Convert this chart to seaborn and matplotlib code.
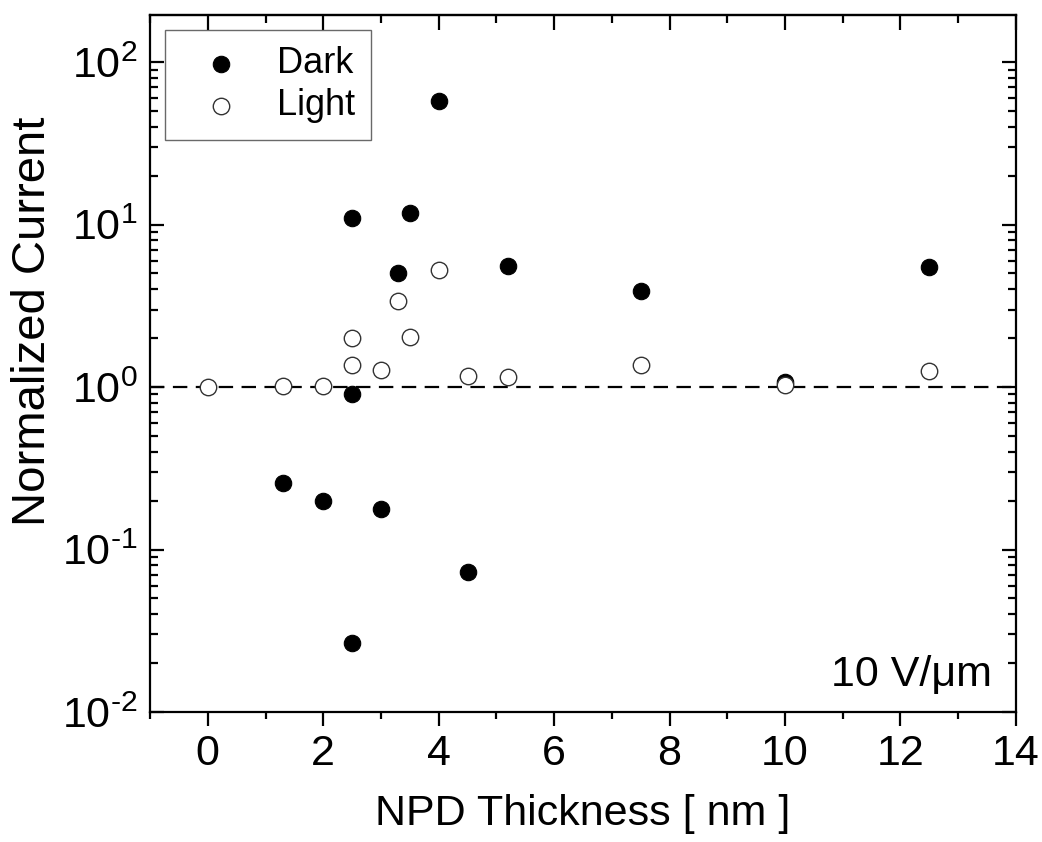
import numpy as np
import pandas as pd
import matplotlib
matplotlib.use("Agg")
import matplotlib.pyplot as plt
from matplotlib.ticker import LogLocator, MultipleLocator, NullFormatter, FuncFormatter
import seaborn as sns

# NPD thickness (nm) and normalized current, dark and illuminated
dark_thickness = [1.3, 2.0, 2.5, 2.5, 2.5, 3.0, 3.3, 3.5, 4.0, 4.5, 5.2, 7.5, 10.0, 12.5]
dark_current = [0.255, 0.200, 0.0266, 0.90, 10.9, 0.177, 5.04, 11.7, 57.6, 0.073, 5.56, 3.88, 1.08, 5.52]

light_thickness = [0.0, 1.3, 2.0, 2.5, 2.5, 3.0, 3.3, 3.5, 4.0, 4.5, 5.2, 7.5, 10.0, 12.5]
light_current = [1.00, 1.02, 1.02, 1.99, 1.36, 1.27, 3.39, 2.03, 5.25, 1.17, 1.15, 1.36, 1.03, 1.26]

series_labels = ["Dark", "Light"]
field_label = "10 V/\u03bcm"
x_label = "NPD Thickness [ nm ]"
y_label = "Normalized Current"

sns.set_theme(style="white")
plt.rcParams["font.family"] = ["Liberation Sans", "DejaVu Sans"]
plt.rcParams["mathtext.fontset"] = "custom"
plt.rcParams["mathtext.rm"] = "Liberation Sans"
plt.rcParams["mathtext.it"] = "Liberation Sans:italic"
plt.rcParams["axes.unicode_minus"] = False
plt.rcParams["text.color"] = "black"
plt.rcParams["axes.labelcolor"] = "black"
plt.rcParams["xtick.color"] = "black"
plt.rcParams["ytick.color"] = "black"

dark_df = pd.DataFrame({"thickness": dark_thickness, "current": dark_current})
light_df = pd.DataFrame({"thickness": light_thickness, "current": light_current})

fig = plt.figure(figsize=(10.42, 8.42), dpi=100)
ax = fig.add_axes([0.144, 0.1544, 0.831, 0.8278])

ax.axhline(1.0, color="black", lw=1.6, ls=(0, (6.5, 3.8)), zorder=1)

sns.scatterplot(data=dark_df, x="thickness", y="current", ax=ax,
                marker="o", s=140, color="black", edgecolor="black",
                linewidth=0.8, label=series_labels[0], zorder=3)
sns.scatterplot(data=light_df, x="thickness", y="current", ax=ax,
                marker="o", s=140, facecolor="white", edgecolor="#333333",
                linewidth=1.0, label=series_labels[1], zorder=3)

ax.set_yscale("log")
ax.set_xlim(-1, 14)
ax.set_ylim(0.01, 10 ** 2.29)


def decade_label(value, pos):
    exp = int(round(np.log10(value)))
    sign = "\u2010" if exp < 0 else ""
    return "$\\mathdefault{10^{%s%d}}$" % (sign, abs(exp))


ax.xaxis.set_major_locator(MultipleLocator(2))
ax.xaxis.set_minor_locator(MultipleLocator(1))
ax.yaxis.set_major_locator(LogLocator(base=10, numticks=10))
ax.yaxis.set_major_formatter(FuncFormatter(decade_label))
ax.yaxis.set_minor_locator(LogLocator(base=10, subs=np.arange(2, 10), numticks=20))
ax.yaxis.set_minor_formatter(NullFormatter())

for sp in ax.spines.values():
    sp.set_visible(True)
    sp.set_color("black")
    sp.set_linewidth(1.6)

ax.tick_params(axis="x", which="both", direction="out", bottom=True, top=False,
               width=1.6, color="black", labelcolor="black", labelsize=31, pad=6)
ax.tick_params(axis="x", which="major", length=10)
ax.tick_params(axis="x", which="minor", length=5)
ax.tick_params(axis="y", which="both", direction="in", left=True, right=True,
               width=1.6, color="black", labelcolor="black", labelsize=31, pad=9)
ax.tick_params(axis="y", which="major", length=10)
ax.tick_params(axis="y", which="minor", length=5.5)

top = ax.secondary_xaxis("top")
top.xaxis.set_major_locator(MultipleLocator(2))
top.xaxis.set_minor_locator(MultipleLocator(1))
top.tick_params(axis="x", which="both", direction="in", width=1.6, labeltop=False)
top.tick_params(axis="x", which="major", length=10.5)
top.tick_params(axis="x", which="minor", length=5.5)
top.spines["top"].set_linewidth(1.6)

ax.set_xlabel(x_label, fontsize=31, color="black")
ax.set_ylabel(y_label, fontsize=34, color="black")
ax.xaxis.set_label_coords(0.5, -0.117)
ax.yaxis.set_label_coords(-0.11, 0.56)

ax.text(0.972, 0.025, field_label, transform=ax.transAxes, ha="right", va="bottom",
        fontsize=31, color="black")

leg = ax.legend(loc="upper left", bbox_to_anchor=(0.0173, 0.9785), fontsize=26,
                frameon=True, fancybox=False, edgecolor="#444444",
                borderaxespad=0, handletextpad=0.45, borderpad=0.45,
                labelspacing=0.2, handlelength=2.2, markerscale=1.0)
leg.get_frame().set_linewidth(1.0)
for t in leg.get_texts():
    t.set_color("black")

fig.savefig("out.png", dpi=100, facecolor="white")
